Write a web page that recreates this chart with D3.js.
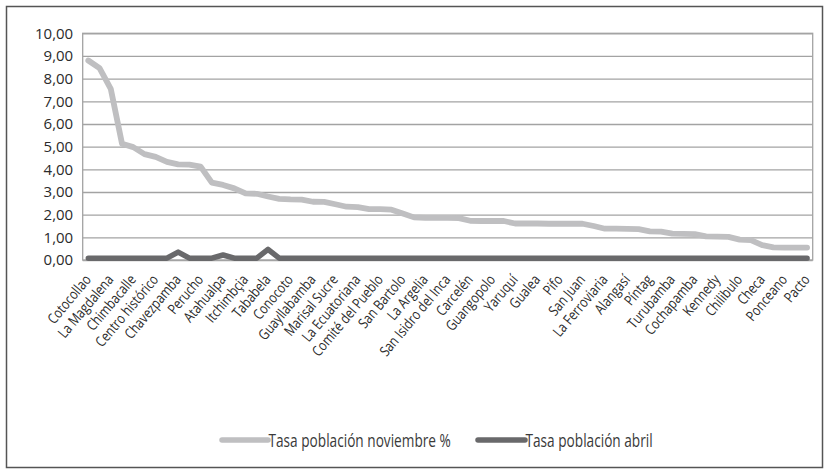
<!DOCTYPE html>
<html>
<head>
<meta charset="utf-8">
<script src="https://cdn.jsdelivr.net/npm/d3@7/dist/d3.min.js"></script>
<style>
  html, body { margin: 0; padding: 0; background: #fff; }
  svg { display: block; font-family: "Open Sans", "Noto Sans", sans-serif; }
</style>
</head>
<body>
<svg id="chart" width="829" height="474"></svg>
<script>
// ---- Data ----
// Category labels shown on the axis (every other category is labelled)
const tickLabels = [
  "Cotocollao", "La Magdalena", "Chimbacalle", "Centro histórico", "Chavezpamba",
  "Perucho", "Atahualpa", "Itchimbçia", "Tababela", "Conocoto", "Guayllabamba",
  "Marisal Sucre", "La Ecuatoriana", "Comité del Pueblo", "San Bartolo", "La Argelia",
  "San Isidro del Inca", "Carcelén", "Guangopolo", "Yaruquí", "Gualea", "Pifo",
  "San Juan", "La Ferroviaria", "Alangasí", "Píntag", "Turubamba", "Cochapamba",
  "Kennedy", "Chilibulo", "Checa", "Ponceano", "Pacto"
];
// Tasa población noviembre % (65 categories)
const novValues = [
  8.80, 8.46, 7.55, 5.13, 4.98, 4.67, 4.55, 4.33, 4.22, 4.21,
  4.12, 3.41, 3.31, 3.16, 2.94, 2.92, 2.80, 2.70, 2.67, 2.66,
  2.57, 2.56, 2.46, 2.35, 2.33, 2.24, 2.24, 2.22, 2.05, 1.88,
  1.86, 1.86, 1.86, 1.85, 1.73, 1.72, 1.72, 1.72, 1.61, 1.61,
  1.61, 1.60, 1.60, 1.60, 1.60, 1.50, 1.38, 1.38, 1.37, 1.36,
  1.26, 1.25, 1.16, 1.15, 1.14, 1.04, 1.03, 1.02, 0.90, 0.88,
  0.66, 0.56, 0.55, 0.55, 0.55
];
// Tasa población abril (65 categories)
const abrValues = [
  0.08, 0.08, 0.08, 0.08, 0.08, 0.08, 0.08, 0.08, 0.35, 0.08,
  0.08, 0.08, 0.22, 0.08, 0.08, 0.08, 0.47, 0.08, 0.08, 0.08,
  0.08, 0.08, 0.08, 0.08, 0.08, 0.08, 0.08, 0.08, 0.08, 0.08,
  0.08, 0.08, 0.08, 0.08, 0.08, 0.08, 0.08, 0.08, 0.08, 0.08,
  0.08, 0.08, 0.08, 0.08, 0.08, 0.08, 0.08, 0.08, 0.08, 0.08,
  0.08, 0.08, 0.08, 0.08, 0.08, 0.08, 0.08, 0.08, 0.08, 0.08,
  0.08, 0.08, 0.08, 0.08, 0.08
];
const yTicks = [0, 1, 2, 3, 4, 5, 6, 7, 8, 9, 10];
const seriesNames = ["Tasa población noviembre %", "Tasa población abril"];

// ---- Layout / style ----
const W = 829, H = 474;
const plot = { left: 82.7, right: 812.7, top: 33.3, bottom: 260 };
const colNov = "#bfbfc1", colAbr = "#69696b", gridCol = "#a3a3a3";

const svg = d3.select("#chart");

// outer frame
svg.append("rect")
  .attr("x", 6.5).attr("y", 6.5)
  .attr("width", 816).attr("height", 461)
  .attr("fill", "#fff").attr("stroke", "#555").attr("stroke-width", 1.5);

const idx = d3.range(novValues.length);
const x = d3.scalePoint().domain(idx).range([plot.left, plot.right]).padding(0.5);
const y = d3.scaleLinear().domain([0, 10]).range([plot.bottom, plot.top]);

// gridlines
svg.append("g")
  .attr("transform", `translate(${plot.left},0)`)
  .call(d3.axisLeft(y).tickValues(yTicks).tickSize(-(plot.right - plot.left)).tickFormat(""))
  .call(g => g.select(".domain").remove())
  .call(g => g.selectAll("line").attr("stroke", gridCol).attr("stroke-width", 1.3));

// plot border
svg.append("rect")
  .attr("x", plot.left).attr("y", plot.top)
  .attr("width", plot.right - plot.left).attr("height", plot.bottom - plot.top)
  .attr("fill", "none").attr("stroke", gridCol).attr("stroke-width", 1.3);

// y axis labels
svg.append("g")
  .attr("transform", `translate(${plot.left},0)`)
  .call(d3.axisLeft(y).tickValues(yTicks).tickSize(0).tickPadding(9.5)
    .tickFormat(d => d3.format(".2f")(d).replace(".", ",")))
  .call(g => g.select(".domain").remove())
  .call(g => g.selectAll("text")
    .attr("font-size", 15).attr("fill", "#2b2b2b")
    .attr("font-family", "'Open Sans', sans-serif"));

// x axis labels
const xAxis = d3.axisBottom(x)
  .tickValues(idx.filter(i => i % 2 === 0))
  .tickFormat(i => tickLabels[i / 2])
  .tickSize(0);
const gx = svg.append("g")
  .attr("transform", `translate(0,${plot.bottom})`)
  .call(xAxis)
  .call(g => g.select(".domain").remove());
gx.selectAll("text")
  .attr("font-size", 14.5).attr("fill", "#2b2b2b")
  .attr("font-family", "'Open Sans', sans-serif")
  .attr("text-anchor", "end")
  .attr("dy", 0).attr("y", 0)
  .attr("transform", "translate(3,20) rotate(-50) scale(0.82,1)");

// lines
const line = d3.line().x((d, i) => x(i)).y(d => y(d));
svg.append("path").datum(novValues)
  .attr("d", line).attr("fill", "none")
  .attr("stroke", colNov).attr("stroke-width", 5.8)
  .attr("stroke-linejoin", "round").attr("stroke-linecap", "round");
svg.append("path").datum(abrValues)
  .attr("d", line).attr("fill", "none")
  .attr("stroke", colAbr).attr("stroke-width", 5.5)
  .attr("stroke-linejoin", "round").attr("stroke-linecap", "round");

// legend
const legend = [
  { name: seriesNames[0], color: colNov, x0: 222, x1: 268 },
  { name: seriesNames[1], color: colAbr, x0: 478, x1: 525 }
];
const ly = 440;
const lg = svg.append("g");
legend.forEach(l => {
  lg.append("line")
    .attr("x1", l.x0).attr("x2", l.x1).attr("y1", ly).attr("y2", ly)
    .attr("stroke", l.color).attr("stroke-width", 5.5).attr("stroke-linecap", "round");
  lg.append("text")
    .attr("transform", `translate(${l.x1 + 0.5},${ly + 6.5}) scale(0.78,1)`)
    .attr("font-size", 17.5).attr("fill", "#3a3a3a")
    .text(l.name);
});
</script>
</body>
</html>
